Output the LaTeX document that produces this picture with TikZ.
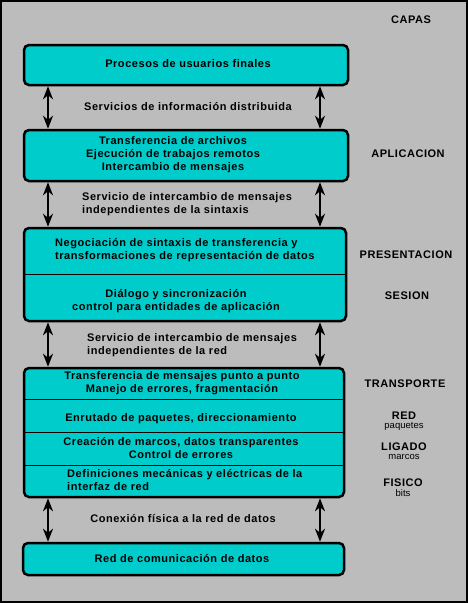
\documentclass[tikz,border=0pt]{standalone}
\usepackage{fontspec}
\setmainfont{Liberation Sans}[LetterSpace=5]
\newfontfamily\etiq{Liberation Sans}
\usetikzlibrary{arrows.meta}
\definecolor{capa}{RGB}{0,204,204}
\definecolor{fondo}{RGB}{188,188,188}
\begin{document}
\begin{tikzpicture}[x=1pt,y=-1pt,
  caja/.style={draw,fill=capa,line width=2.5pt,rounded corners=5pt,inner sep=0pt},
  txt/.style={font=\fontsize{11}{13}\selectfont\bfseries,inner sep=0pt,align=center},
  sub/.style={font=\etiq\fontsize{9.5}{10}\selectfont,inner sep=0pt},
  flecha/.style={line width=2pt,{Stealth[length=13pt,width=10pt,inset=4pt]}-{Stealth[length=13pt,width=10pt,inset=4pt]}}]
  \fill[black] (0,0) rectangle (468,603);
  \fill[fondo] (2,2) rectangle (466,601);
  \useasboundingbox (0,0) rectangle (468,603);

  \coordinate (izq) at (48,0);
  \coordinate (der) at (320,0);

  \node[caja,minimum width=324pt,minimum height=40pt] (b1) at (186,65) {};
  \node[caja,minimum width=324pt,minimum height=51pt] (b2) at (186,155.5) {};
  \node[caja,minimum width=322pt,minimum height=93pt] (b3) at (185,274.5) {};
  \node[caja,minimum width=320pt,minimum height=129pt] (b4) at (184,432.5) {};
  \node[caja,minimum width=321pt,minimum height=32pt] (b5) at (183.5,559) {};

  \draw[line width=1pt] (b3.west |- 0,274) -- (b3.east |- 0,274);
  \foreach \y in {399,432,465}
    \draw[line width=1pt] (b4.west |- 0,\y) -- (b4.east |- 0,\y);

  \draw[flecha] (b1.south -| izq) -- (b2.north -| izq);
  \draw[flecha] (b1.south -| der) -- (b2.north -| der);
  \draw[flecha] (b2.south -| izq) -- (b3.north -| izq);
  \draw[flecha] (b2.south -| der) -- (b3.north -| der);
  \draw[flecha] (b3.south -| izq) -- (b4.north -| izq);
  \draw[flecha] (b3.south -| der) -- (b4.north -| der);
  \draw[flecha] (b4.south -| izq) -- (b5.north -| izq);
  \draw[flecha] (b4.south -| der) -- (b5.north -| der);

  \node[txt] (capas) at (411,20) {CAPAS};
  \node[txt] (p1) at (188,64) {Procesos de usuarios finales};
  \node[txt] (s1) at (188,107) {Servicios de información distribuida};
  \node[txt] (p2) at (173,155) {Transferencia de archivos\\Ejecución de trabajos remotos\\Intercambio de mensajes};
  \node[txt] (aplic) at (408,154) {APLICACION};
  \node[txt,anchor=west,align=left] (s2) at (82,204.5) {Servicio de intercambio de mensajes\\independientes de la sintaxis};
  \node[txt,anchor=west,align=left] (p3) at (55,250.5) {Negociación de sintaxis de transferencia y\\transformaciones de representación de datos};
  \node[txt] (pres) at (406,255) {PRESENTACION};
  \node[txt] (p4) at (176,301) {Diálogo y sincronización\\control para entidades de aplicación};
  \node[txt] (sesion) at (407,296) {SESION};
  \node[txt,anchor=west,align=left] (s3) at (87,345.5) {Servicio de intercambio de mensajes\\independientes de la red};
  \node[txt] (p5) at (182,383.5) {Transferencia de mensajes punto a punto\\Manejo de errores, fragmentación};
  \node[txt] (transp) at (405,384) {TRANSPORTE};
  \node[txt] (p6) at (181,419) {Enrutado de paquetes, direccionamiento};
  \node[txt] (red) at (404,416) {RED};
  \node[sub] (redsub) at (404,426) {paquetes};
  \node[txt] (p7) at (181,448) {Creación de marcos, datos transparentes\\Control de errores};
  \node[txt] (ligado) at (404,447) {LIGADO};
  \node[sub] (ligsub) at (404,457) {marcos};
  \node[txt,anchor=west,align=left] (p8) at (67,480.5) {Definiciones mecánicas y eléctricas de la\\interfaz de red};
  \node[txt] (fisico) at (403,483) {FISICO};
  \node[sub] (fissub) at (403,493) {bits};
  \node[txt] (s4) at (183,519) {Conexión física a la red de datos};
  \node[txt] (p9) at (182,559) {Red de comunicación de datos};
\end{tikzpicture}
\end{document}
